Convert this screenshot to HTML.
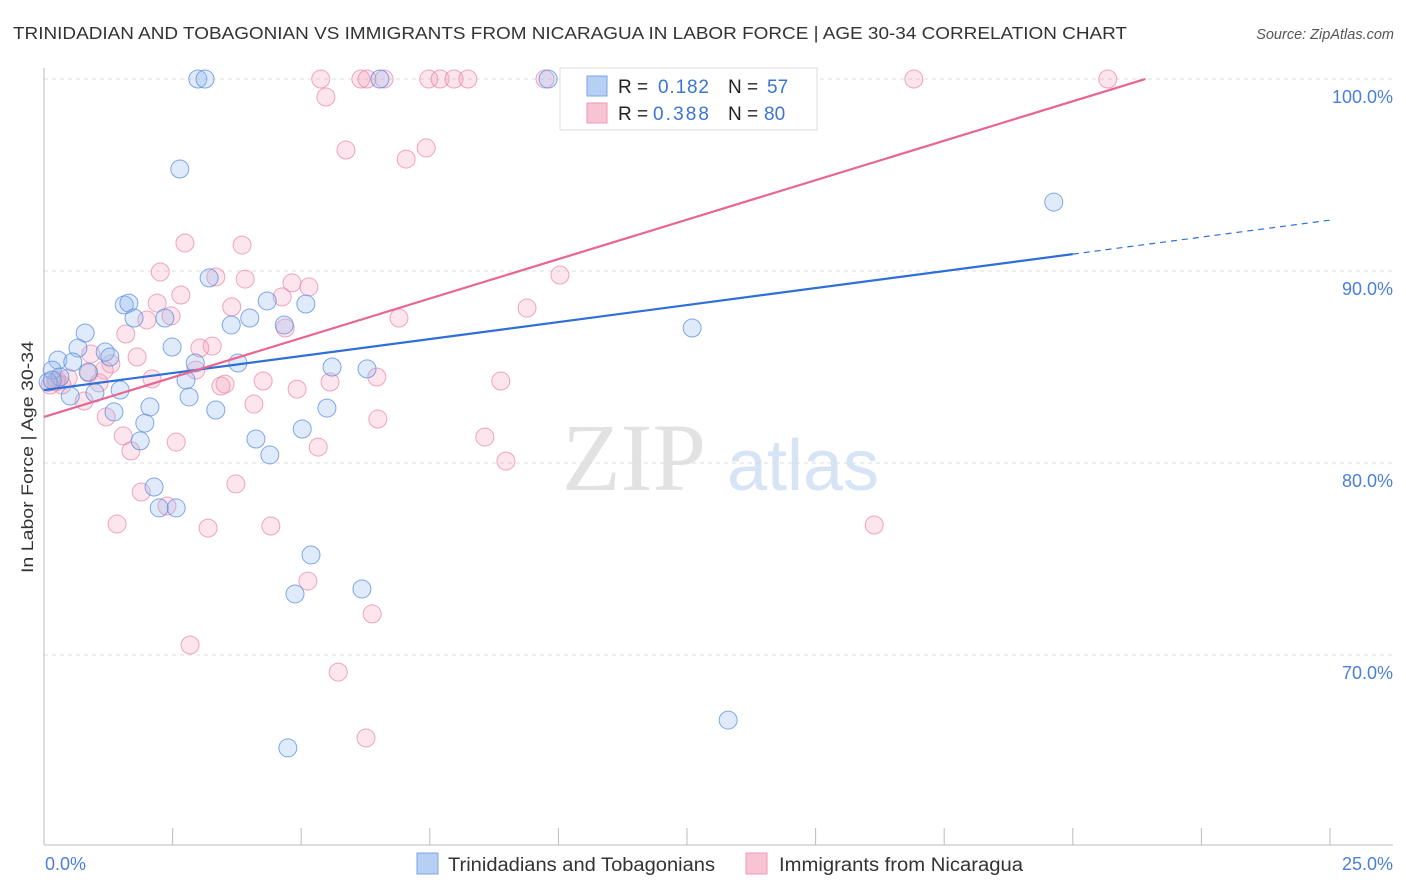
<!DOCTYPE html>
<html><head><meta charset="utf-8">
<style>
body{margin:0;background:#fff;font-family:"Liberation Sans",sans-serif;}
svg{display:block}
</style></head>
<body>
<svg id="chart" width="1406" height="892" viewBox="0 0 1406 892" xmlns="http://www.w3.org/2000/svg">
<text x="13" y="39" font-size="17.5" fill="#333" textLength="1114" lengthAdjust="spacingAndGlyphs">TRINIDADIAN AND TOBAGONIAN VS IMMIGRANTS FROM NICARAGUA IN LABOR FORCE | AGE 30-34 CORRELATION CHART</text>
<text x="1394" y="39" font-size="14.5" fill="#555" font-style="italic" text-anchor="end">Source: ZipAtlas.com</text>
<g>
<text x="634" y="490" font-size="96" fill="#e2e2e2" text-anchor="middle" font-family="Liberation Serif, serif">ZIP</text>
<text x="803" y="490" font-size="72" fill="#d6e4f5" text-anchor="middle">atlas</text>
</g>
<g id="grid"></g>
<g id="axes"></g>
<g id="marks"></g>
<g id="lines"></g>
<text transform="translate(33,457) rotate(-90)" font-size="17" fill="#333" text-anchor="middle" textLength="232" lengthAdjust="spacingAndGlyphs">In Labor Force | Age 30-34</text>
<text x="45" y="870" font-size="18" fill="#4a7fd8">0.0%</text>
<text x="1393" y="870" font-size="18" fill="#4a7fd8" text-anchor="end">25.0%</text>
<g>
<rect x="560" y="68" width="257" height="62" fill="#fff" stroke="#ddd"/>
<rect x="587" y="76" width="20" height="20" fill="#b7cff3" stroke="#7aa6e6"/>
<rect x="587" y="103" width="20" height="20" fill="#f8c3d3" stroke="#ee9ab6"/>
<text x="618" y="93" font-size="19" fill="#222">R = </text>
<text x="658" y="93" font-size="19" fill="#3b74d4" textLength="51">0.182</text>
<text x="728" y="93" font-size="19" fill="#222">N = </text>
<text x="767" y="93" font-size="19" fill="#3b74d4">57</text>
<text x="618" y="120" font-size="19" fill="#222">R = </text>
<text x="653" y="120" font-size="19" fill="#3b74d4" textLength="56">0.388</text>
<text x="728" y="120" font-size="19" fill="#222">N = </text>
<text x="764" y="120" font-size="19" fill="#3b74d4">80</text>
</g>
<g>
<rect x="417" y="853" width="21" height="21" fill="#b7cff3" stroke="#7aa6e6"/>
<text x="448" y="871" font-size="19" fill="#333" textLength="267" lengthAdjust="spacingAndGlyphs">Trinidadians and Tobagonians</text>
<rect x="746" y="853" width="21" height="21" fill="#f8c3d3" stroke="#ee9ab6"/>
<text x="779" y="871" font-size="19" fill="#333" textLength="244" lengthAdjust="spacingAndGlyphs">Immigrants from Nicaragua</text>
</g>
</svg>
<script>
const yTicks=[100,90,80,70];
const yTickLabels=["100.0%","90.0%","80.0%","70.0%"];
const xTicks=[0,2.5,5,7.5,10,12.5,15,17.5,20,22.5,25];
const blueX=[2.99,3.13,6.53,9.80,10.48,13.69,2.64,19.63,3.21,1.56,1.65,4.34,5.09,1.75,2.35,4.00,3.64,4.67,0.80,12.60,0.66,2.49,1.19,1.28,0.27,0.56,3.77,2.94,5.60,6.28,0.16,0.86,0.31,2.76,0.08,0.99,1.48,0.51,2.82,2.06,5.50,3.34,1.36,1.96,5.02,4.12,1.87,4.39,2.14,2.24,2.57,5.19,4.88,6.18,13.30,4.74,0.16];
const blueY=[100,100,100,100,100,100,95.31,93.59,89.64,88.23,88.33,88.44,88.28,87.55,87.55,87.55,87.19,87.19,86.77,87.03,85.99,86.04,85.78,85.52,85.36,85.26,85.21,85.21,85.00,84.90,84.84,84.74,84.48,84.32,84.22,83.65,83.80,83.49,83.44,82.92,82.86,82.76,82.66,82.08,81.77,81.25,81.15,80.42,78.75,77.66,77.66,75.21,73.18,73.44,66.61,65.16,84.32];
const pinkX=[5.38,6.16,6.28,6.61,7.48,7.70,7.97,8.24,9.74,16.91,20.68,5.48,5.87,7.43,7.04,2.74,3.85,2.26,3.34,3.91,4.82,5.15,2.66,4.63,2.20,3.65,2.47,2.00,4.69,6.90,9.39,10.03,1.59,3.27,3.03,0.91,1.81,1.30,1.17,0.87,2.95,0.47,2.10,4.26,5.56,6.47,8.88,0.23,1.07,3.52,0.35,4.92,3.44,0.78,4.08,1.21,6.49,1.54,2.57,5.33,8.57,8.98,1.69,3.73,1.89,2.39,1.42,3.19,4.41,16.14,5.13,6.38,2.84,5.72,6.26,10.38,0.12,0.25];
const pinkY=[100,100,100,100,100,100,100,100,100,100,100,99.06,96.30,96.41,95.83,91.46,91.35,89.95,89.69,89.58,89.38,89.17,88.75,88.65,88.33,88.13,87.66,87.45,87.03,87.55,88.07,89.79,86.72,86.09,85.99,85.68,85.52,85.16,84.84,84.69,84.84,84.43,84.38,84.27,84.22,84.48,84.27,84.22,84.17,84.11,84.06,83.85,84.01,83.23,83.07,82.40,82.29,81.41,81.09,80.83,81.35,80.10,80.63,78.91,78.49,77.76,76.82,76.61,76.72,76.77,73.85,72.14,70.52,69.11,65.68,98.49,84.06,84.32];
const blueTrend=[83.8,0.354];
const pinkTrend=[82.4,0.822];
const NS="http://www.w3.org/2000/svg";
const X0=44,X1=1330,Y100=79,PXPER=19.2;
function sx(v){return X0+(v/25)*(X1-X0);}
function sy(v){return Y100+(100-v)*PXPER;}
function mk(tag,attrs,parent){const e=document.createElementNS(NS,tag);for(const k in attrs)e.setAttribute(k,attrs[k]);parent.appendChild(e);return e;}
const grid=document.getElementById('grid'),axes=document.getElementById('axes'),marks=document.getElementById('marks'),lines=document.getElementById('lines');
yTicks.forEach((t,i)=>{
 const l=mk('line',{x1:44,x2:1393,y1:sy(t),y2:sy(t),stroke:'#ddd','stroke-dasharray':'4,4'},grid);
 
 
 const tx=mk('text',{x:1393,y:sy(t)+24,'font-size':18,fill:'#4a7fd8','text-anchor':'end'},axes);
 tx.textContent=yTickLabels[i];
 
 
});
const ya=mk('line',{x1:44,x2:44,y1:68,y2:845,stroke:'#bbb'},axes);


const xa=mk('line',{x1:44,x2:1393,y1:845,y2:845,stroke:'#bbb'},axes);


xTicks.forEach(t=>{
 const l=mk('line',{x1:sx(t),x2:sx(t),y1:828,y2:845,stroke:'#bbb'},axes);
 
 
});
function dots(xs,ys,fill,stroke,name){
 xs.forEach((x,i)=>{
  const c=mk('circle',{cx:sx(x),cy:sy(ys[i]),r:9,fill:fill,stroke:stroke,'stroke-width':1},marks);
  
  
 });
}
dots(pinkX,pinkY,'rgba(244,160,188,0.28)','rgba(232,130,165,0.7)','nicaragua-point');
dots(blueX,blueY,'rgba(150,185,240,0.3)','rgba(90,140,220,0.75)','trinidadian-point');
const b1=mk('line',{x1:sx(0),y1:sy(blueTrend[0]),x2:sx(20),y2:sy(blueTrend[0]+blueTrend[1]*20),stroke:'#2f6fd6','stroke-width':2.2},lines);


const b2=mk('line',{x1:sx(20),y1:sy(blueTrend[0]+blueTrend[1]*20),x2:sx(25),y2:sy(blueTrend[0]+blueTrend[1]*25),stroke:'#2f6fd6','stroke-width':1.2,'stroke-dasharray':'6,5'},lines);


const pxEnd=(100-pinkTrend[0])/pinkTrend[1];
const p1=mk('line',{x1:sx(0),y1:sy(pinkTrend[0]),x2:sx(pxEnd),y2:sy(100),stroke:'#e8668f','stroke-width':2.2},lines);


</script>
</body></html>
